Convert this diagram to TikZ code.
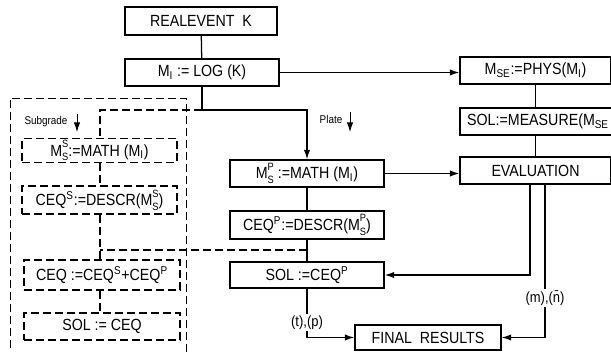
\documentclass[tikz,border=0pt]{standalone}
\usepackage{fontspec}
\setmainfont{Liberation Sans}[FakeStretch=0.88]
\usetikzlibrary{arrows.meta,positioning}
\newcommand\lo[1]{\textsubscript{#1}}
\newcommand\hi[1]{\textsuperscript{#1}}
\newcommand\hilo[2]{\raisebox{1.0ex}{\rlap{\fontsize{7.5}{8}\selectfont #1}}\raisebox{-0.55ex}{\fontsize{7.5}{8}\selectfont #2}}

\begin{document}
\begin{tikzpicture}[x=0.25mm,y=-0.25mm,font=\fontsize{11.5}{13}\selectfont]
  \tikzstyle{blk}=[draw,line width=0.9pt,inner sep=1pt,minimum width=38.5mm,minimum height=6.75mm]
  \tikzstyle{sblk}=[blk,dash pattern=on 2mm off 1mm]
  \tikzstyle{wire}=[line width=0.9pt]
  \tikzstyle{swire}=[wire,dash pattern=on 2mm off 1mm]
  \tikzstyle{lbl}=[font=\fontsize{8}{9}\selectfont,inner sep=1pt]
  \tikzstyle{tip}=[-{Latex[length=2.4mm,width=1.6mm]}]
  \useasboundingbox (0,0) rectangle (611,352);
  \clip (0,0) rectangle (611,352);

  % main line
  \node[blk,minimum width=38mm,minimum height=7mm] (real) at (201,21) {REALEVENT\ \ K};
  \node[blk] (log) at (202,72.5) {M\lo{I} := LOG (K)};

  % physical side
  \node[blk,minimum width=37.75mm] (phys) at (535.5,70.5) {M\lo{SE}:=PHYS(M\lo{I})};
  \node[blk,minimum width=39mm] (meas) at (538,121.5) {SOL:=MEASURE(M\lo{SE}};
  \node[blk,minimum width=37.75mm] (eval) at (535.5,170.5) {EVALUATION};

  % subgrade
  \node[sblk,minimum width=38.75mm,minimum height=5.75mm] (mathS) at (99.5,150.5) {M\hilo{S}{S}:=MATH (M\lo{I})};
  \node[sblk,minimum width=38.75mm,minimum height=7mm] (ceqS) at (99.5,200) {CEQ\hi{S}:=DESCR(M\hilo{S}{S})};
  \node[sblk,minimum width=39mm,minimum height=7.5mm] (ceq) at (102,275) {CEQ :=CEQ\hi{S}+CEQ\hi{P}};
  \node[sblk,minimum width=39mm] (sol) at (102,326.5) {SOL := CEQ};

  % plate
  \node[blk] (mathP) at (307,173.5) {M\hilo{P}{S} :=MATH (M\lo{I})};
  \node[blk,minimum height=7mm] (ceqP) at (307,225) {CEQ\hi{P}:=DESCR(M\hilo{P}{S})};
  \node[blk,minimum height=6.5mm] (solP) at (307,275) {SOL :=CEQ\hi{P}};

  \node[blk,minimum width=36.5mm,minimum height=6.25mm] (final) at (428,337.5) {FINAL\ \ RESULTS};

  % branch labels
  \node[lbl] (sgr) at (46,122) {Subgrade};
  \node[lbl] (plt) at (331,119) {Plate};
  \coordinate (sga) at (77,114);
  \coordinate (sgb) at (77,132);
  \coordinate (pla) at (350,112);
  \coordinate (plb) at (350,132);
  \draw[tip,line width=0.6pt] (sga) -- (sgb);
  \draw[tip,line width=0.6pt] (pla) -- (plb);

  % frame round the subgrade part
  \draw[swire,line width=0.6pt] (10,360) -- (10,98) -- (186,98) -- (186,360);

  \coordinate (jl) at (202,110);
  \coordinate (jp) at (307,110);
  \coordinate (js) at (100,110);
  \coordinate (jc) at (100,250);
  \coordinate (jq) at (307,250);
  \coordinate (ea) at (530,275);
  \coordinate (eb) at (545,337.5);
  \coordinate (et) at (307,337.5);

  \draw[wire] (real) -- (log);
  \draw[wire,tip] (log.east) -- (log.east -| phys.west);
  \draw[wire,tip] (log) -- (jl) -- (jp) -- (mathP);
  \draw[swire] (jl) -- (js) -- (js |- mathS.north);
  \draw[swire] (mathS.south -| js) -- (ceqS.north -| js);
  \draw[swire] (ceqS.south -| jc) -- (jc) -- (jc |- ceq.north);
  \draw[swire] (jq) -- (jc);
  \draw[swire] (ceq.south -| jc) -- (sol.north -| jc);
  \draw[wire] (mathP) -- (ceqP);
  \draw[wire] (ceqP) -- (solP);
  \draw[wire,tip] (mathP) -- (eval.west |- mathP);
  \draw[wire] (phys) -- (phys |- meas.north);
  \draw[wire] (meas.south -| eval) -- (eval);
  \draw[wire,tip] (eval.south -| ea) -- (ea) -- (solP);
  \draw[wire,tip] (eval.south -| eb) -- node[lbl,fill=white,pos=0.74,font=\fontsize{10.5}{12}\selectfont] {(m),(\={n})} (eb) -- (final);
  \draw[wire,tip] (solP) -- node[lbl,fill=white,pos=0.69,font=\fontsize{10.5}{12}\selectfont] {(t),(p)} (et) -- (final);
\end{tikzpicture}
\end{document}
